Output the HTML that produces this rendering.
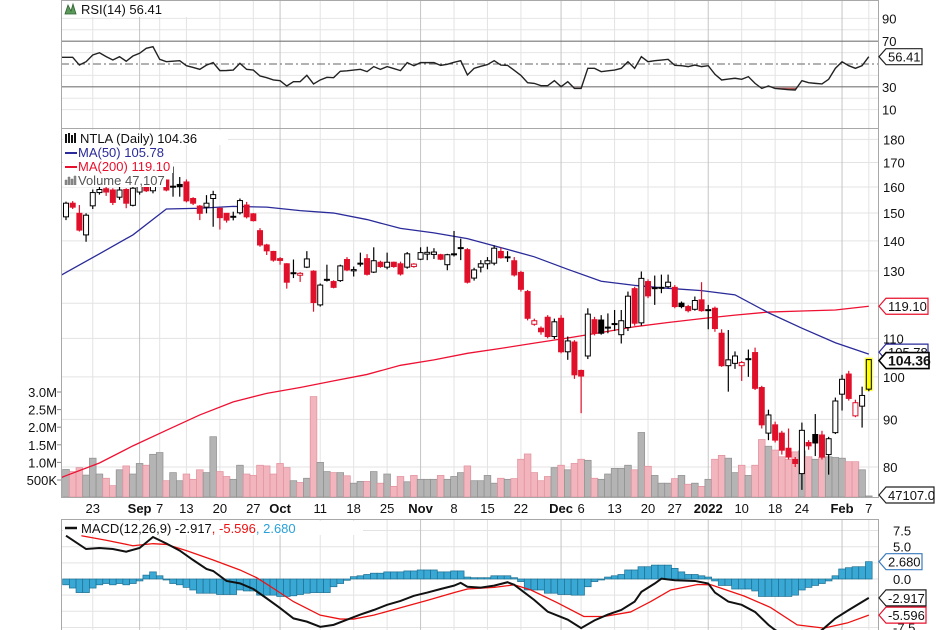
<!DOCTYPE html>
<html><head><meta charset="utf-8"><style>
html,body{margin:0;padding:0;background:#fff;}
svg{display:block;font-family:"Liberation Sans",sans-serif;}
</style></head><body>
<svg id="chart" width="936" height="630" viewBox="0 0 936 630" xmlns="http://www.w3.org/2000/svg">
<defs>
<clipPath id="cpPrice"><rect x="61" y="128" width="817" height="369"/></clipPath>
<clipPath id="cpMacd"><rect x="61" y="519" width="817" height="111"/></clipPath>
<clipPath id="cpRsi"><rect x="61" y="0" width="817" height="128"/></clipPath>
<clipPath id="cpRsiLow"><rect x="61" y="87.6" width="817" height="40"/></clipPath>
</defs>
</svg>
<script>
// ---------- DATA ----------
const opens=[148.6,153.7,149.9,142.1,152.7,157.8,159.3,158.8,156,159,152.9,158,160.5,158.5,161.5,162.8,160.3,161,162,155.5,152.6,152.2,155.5,151.8,149.9,148.6,150.1,153,149.7,143.6,138.6,136.4,134,132.3,129.3,128.6,131.2,129.9,119.5,127.2,126.6,126.9,133.7,130,132.4,134,129.6,132.8,131.2,132.8,132.3,131.2,131.4,133.8,135.5,135.4,135.3,132,135.5,137.6,137,127.7,131.2,132.3,132.5,136.4,134.6,133.3,129.5,123.5,113.9,112.8,115.9,110.5,115.6,106.4,109,101.6,105.3,115.2,115.1,113,114,111,113,124.4,114.3,126.6,124.6,124.7,125,124.8,120,119,118.2,121,118,118.5,111.4,102.8,103.4,102.8,104.5,106.2,97.4,87,88.8,87,83.8,81.5,78.7,85,86.7,86.6,82.5,87.1,95.8,100.7,90.8,93,97];
const highs=[154.3,154.5,153,149.9,159,160,160,159.5,160,159.5,160,161,162,162,164,163,168.3,164,163,156,153,156.8,158.5,152,150,150.5,155.5,154.2,150,144.5,139,136.6,134.5,132.5,133.7,129.6,136.5,130.2,126,132,127,132,134.5,131.4,136,135.5,137.8,133.3,136,133,133,136.2,132.5,137.8,138,137.5,135.6,135.6,143.5,140.8,137.5,131,133.5,134.5,138.5,137.7,136.5,134.5,130,124,115.5,113.3,116.5,115.5,116.5,110.5,109.5,101.8,118.5,116,116.5,117,118,118,123.5,125,129.8,127.3,128.5,128.8,128.8,125.5,120.5,119.5,122,126.4,119.5,119,112.5,112.3,106.5,104,107,107.5,97.8,92.2,89.5,87.5,88,82,89.3,85.5,91.2,87.5,86.2,95,100.5,101.5,94.5,97.6,104.5];
const lows=[147.4,151.5,143.3,139.7,151.5,157,156.5,153,155,151.8,152.5,157,158,157.5,160,158.3,156.2,156.2,154,153,147.4,149.9,145,144,146.5,147.3,149.5,148,146.9,138,135.2,133,132,124.4,127.7,126.5,130.9,117.5,119,126.6,124.5,126.5,129.9,128.2,131.4,128.5,129.3,131,130.5,131,128.5,130.7,131,133.5,133.5,133.9,133.5,130.2,134.7,133.5,126,126.9,129.5,130.5,131.8,134,132.9,128.2,123.5,115,113.5,111,110,109.8,106,104.3,99.5,91.4,104.5,110.8,111,111.4,112,108.6,112,113.5,113.5,121.5,119.5,123,124.5,118.5,118.5,117.3,117.8,117.5,112.5,111.8,102.5,96.4,102,99,100,96.8,88,85.5,85,82.5,81.5,80,75.6,83.5,82.2,81.5,78.5,86.8,92,94.3,90.5,88.2,96.5];
const closes=[153.7,152.2,143.8,149.2,157.8,159,158,154,158.8,153.7,159.5,160.5,158.5,161.5,163,158.8,160.1,160.1,154.6,153.7,149.9,153.7,157,148.3,147.4,148.8,154.7,148.6,147.2,138.6,136.6,133.5,133.4,126.4,129.4,129.2,133.9,120.2,125.5,127.3,124.8,131.6,130.3,130.4,132.5,128.9,133.3,131.4,132.8,131.4,129,135.6,132.2,136,136.1,136.2,133.8,135.3,135.6,137.7,126.4,130.3,132.3,133.3,137.5,134.3,134.5,128.7,124.2,115.6,114.9,111.8,110.5,114.6,106.4,109.3,100.5,100.2,116.8,111.4,111.4,113.1,114.1,114.9,122.1,114.2,127.6,122.2,124.7,124.8,126.4,119,119,117.8,120.8,117.8,118.1,112.7,102.8,104.3,105.3,103.6,104.6,97.2,88.8,91,85.5,83.4,82,80.7,87.6,84.3,84.9,82,85.8,94.2,99.4,94.8,93.8,95.5,104.36];
const volumesM=[0.80,0.74,0.85,0.64,1.12,0.67,0.55,0.34,0.79,0.90,0.67,0.97,0.92,1.23,1.28,0.48,0.71,0.48,0.67,0.52,0.79,0.71,1.73,0.74,0.60,0.52,0.92,0.67,0.63,0.92,0.90,0.67,0.97,0.85,0.48,0.43,0.55,2.87,1.0,0.74,0.71,0.71,0.62,0.41,0.46,0.46,0.74,0.41,0.67,0.32,0.60,0.45,0.63,0.52,0.52,0.52,0.63,0.52,0.60,0.71,0.90,0.48,0.48,0.63,0.41,0.55,0.52,0.54,1.09,1.24,0.71,0.48,0.60,0.85,0.92,0.79,0.97,1.09,1.06,0.55,0.52,0.67,0.83,0.83,0.92,0.79,1.85,0.89,0.63,0.41,0.41,0.54,0.63,0.38,0.41,0.32,0.52,1.09,1.20,1.12,0.71,0.92,0.63,0.92,1.65,1.46,1.35,1.16,1.09,1.30,1.33,1.16,1.09,1.14,1.16,1.14,1.12,1.02,1.02,0.79,0.047];
const ma50Idx=[0,5,10,15,20,25,30,35,40,45,50,55,60,65,70,75,80,85,90,95,100,105,110,115,120];
const ma50=[129.5,135.6,142.1,151.5,151.8,152.5,152.2,150.9,150,147.6,144.4,142.8,140.8,137.7,134.6,130.5,126.7,125.4,124.5,123.8,122.5,117.2,112.8,108.8,105.78];
const ma200=[78.3,80.8,84.3,87.6,91,94,96,97.4,99,100.6,102.9,104.3,106,107.3,108.7,110.1,111.6,113.2,114.4,115.5,116.5,117.4,117.7,118,119.1];
const rsi=[55.9,55.9,49.1,52,57.9,59.9,56.5,53.5,56.4,52.4,57,59.4,63.8,65.2,54.1,52,52.5,52.9,48.5,47,45.3,49,51.2,44.2,44.3,44.7,50.6,45.3,44.7,39.5,38,36,35.4,30.7,34.5,34.5,40.1,32.5,36,38.3,38,43.6,44,44.7,45.3,43.3,47.7,45.3,47.7,46,44.2,51.2,48.5,51.2,51.2,51.2,48.8,49.7,51.5,52.9,40.4,46.2,48,49.5,52.9,49.1,48.8,44.5,40,33.6,33,31,31,35.4,30.1,34.5,28.6,28.6,46.2,46.2,43.3,44,44.7,46.2,52,46.2,56.4,52,52.9,53.5,54.1,48.8,48.5,47.7,49.1,47.7,48.5,41,36,36.8,37.5,36.6,38.9,33,28.6,30.7,28.6,28,27.5,27.2,35.4,33.6,33,32.5,36.6,46.2,52,48.5,46.2,48.5,56.41];
const macdIdx=[0,3,5,7,9,11,13,15,17,19,21,22,24,26,28,30,32,34,36,38,40,42,44,46,48,50,52,54,56,58,59,60,62,64,66,67,70,72,75,77,79,81,83,85,86,88,89,91,94,96,97,99,101,103,105,106,108,111,113,115,117,120];
const macdVals=[6.7,4.64,4.8,4.64,4.23,4.8,6.5,5.5,4.4,2.94,1.55,1.24,-0.3,-0.67,-1.55,-3,-4.5,-6.1,-6.6,-7.4,-7.1,-6.3,-5.5,-4.8,-4.0,-3.4,-2.6,-2.1,-1.55,-1.03,-0.6,-1.2,-1.34,-1.03,-0.5,-0.9,-3.25,-5.06,-6.3,-7.6,-6.4,-5.5,-4.8,-3.5,-2.0,-0.7,0.05,-0.2,-0.3,-0.7,-2.1,-3.5,-4.0,-5.1,-7.1,-7.9,-9,-9.2,-7.9,-6.1,-4.8,-2.917];
const sigIdx=[2.3,6,10,13,15,18,22,26,28.5,31,34,38,41,43,46,50,54,58,60,64,67,69.5,73.5,77.4,80.4,84.4,87.4,90.4,94.4,96.4,101.4,105.3,109.3,113.3,116.8,120];
const sigVals=[6.7,6.0,5.15,5.47,5.35,4.4,2.94,1.4,0.2,-1.45,-3.5,-5.6,-6.2,-6.2,-5.6,-4.45,-3.3,-2.1,-1.55,-1.3,-0.9,-1.7,-3.7,-5.8,-5.8,-5.1,-3.5,-1.7,-0.85,-0.9,-2.65,-4.4,-7.1,-7.6,-6.8,-5.596];
const hist=[-0.9,-1.4,-2.1,-2.1,-1.4,-0.9,-0.7,-0.9,-0.7,-0.9,-0.7,-0.3,0.6,1.1,0.5,-0.15,-0.7,-0.9,-1.3,-1.7,-2.2,-2.2,-2.2,-2.4,-2.4,-2.4,-1.7,-1.85,-1.85,-2.5,-2.5,-2.5,-2.7,-2.7,-2.6,-2.4,-2.2,-2.1,-2.1,-2.1,-1.2,-0.7,-0.2,0.36,0.5,0.7,0.9,0.9,1.1,1.1,1.1,1.25,1.25,1.4,1.4,1.4,1.1,1.1,1.25,1.25,0.3,0.2,0.2,0.2,0.5,0.5,0.5,0.2,-0.4,-1.7,-1.7,-1.7,-2.2,-2.2,-2.4,-2.4,-2.5,-2.5,-1.2,-0.4,-0.15,0.3,0.5,0.7,1.4,1.4,1.9,1.9,2.15,2.15,2.15,1.65,1.1,0.7,0.7,0.5,0.3,-0.3,-1.0,-1.0,-1.55,-1.55,-1.55,-1.85,-2.7,-2.7,-2.7,-2.7,-2.7,-2.5,-1.7,-1.3,-1.0,-0.7,-0.3,0.5,1.55,1.75,1.9,1.9,2.68];
const priceTicks=[180,170,160,150,140,130,110,100,90,80];
const priceGrid=[180,170,160,150,140,130,120,110,100,90,80];
const volTicks=[3.0,2.5,2.0,1.5,1.0,0.5];
const volTickLabels=['3.0M','2.5M','2.0M','1.5M','1.0M','500K'];
const rsiTicks=[90,70,30,10];
const rsiGrid=[10,20,30,40,50,60,70,80,90];
const macdTicks=[7.5,5.0,0.0,-7.5];
const macdTickLabels=['7.5','5.0','0.0','-7.5'];
const macdGrid=[7.5,5,2.5,0,-2.5,-5,-7.5];
const dayIdx=[4,14,18,23,28,38,43,48,58,63,68,77,82,87,91,101,106,110,120];
const dayLabels=['23','7','13','20','27','11','18','25','8','15','22','6','13','20','27','10','18','24','7'];
const monthIdx=[11,32,53,74,96,116];
const monthLabels=['Sep','Oct','Nov','Dec','2022','Feb'];

// ---------- SCALES ----------
const X0=66, DX=6.69, PL=61, PR=878;
function xOf(i){return X0+DX*i;}
function yP(p){return 467-Math.log(p/80)*404;}
function yV(v){return 497.6-v*35.2;}
function yR(v){return 64-(v-50)*1.14;}
function yM(v){return 579-v*6.46;}

const svg=document.getElementById('chart');
const NS='http://www.w3.org/2000/svg';
function mk(tag,attrs,parent){const e=document.createElementNS(NS,tag);for(const k in attrs)e.setAttribute(k,attrs[k]);(parent||svg).appendChild(e);return e;}
function grp(clip){const g=mk('g',clip?{'clip-path':'url(#'+clip+')'}:{});return g;}

// panel backgrounds
[[0,128,'rsi-panel'],[128,369,'price-panel'],[519,111,'macd-panel']].forEach(function(p){
  const r=mk('rect',{x:PL,y:p[0],width:PR-PL,height:p[1],fill:'#fff',stroke:'none'});
  
  
});

// gridlines
const gridG=grp();


priceGrid.forEach(function(p){const l=mk('line',{x1:PL,x2:PR,y1:yP(p),y2:yP(p),stroke:'#e3e3e3'},gridG);
  
  });
rsiGrid.forEach(function(v){if(v===30||v===70||v===50)return;const l=mk('line',{x1:PL,x2:PR,y1:yR(v),y2:yR(v),stroke:'#e6e6e6'},gridG);
  
  });
macdGrid.forEach(function(v){const l=mk('line',{x1:PL,x2:PR,y1:yM(v),y2:yM(v),stroke:'#e3e3e3'},gridG);
  
  });
[[0,128],[128,497],[519,630]].forEach(function(s){
  dayIdx.forEach(function(i){const l=mk('line',{x1:xOf(i),x2:xOf(i),y1:s[0],y2:s[1],stroke:'#e3e3e3'},gridG);
    
    });
  monthIdx.forEach(function(i){const l=mk('line',{x1:xOf(i),x2:xOf(i),y1:s[0],y2:s[1],stroke:'#c4c4c4'},gridG);
    
    });
});

// ---------- RSI ----------
const rsiG=grp('cpRsi');


[70,30].forEach(function(v){const l=mk('line',{x1:PL,x2:PR,y1:yR(v),y2:yR(v),stroke:'#777','stroke-width':1.2},rsiG);
  
  });
const mid=mk('line',{x1:PL,x2:PR,y1:yR(50),y2:yR(50),stroke:'#666','stroke-dasharray':'8,3,2,3'},rsiG);


let rpts=[[PL,yR(rsi[0])]];
rsi.forEach(function(v,i){rpts.push([xOf(i),yR(v)]);});
const lowArea=mk('polygon',{points:rpts.map(p=>p.join(',')).join(' ')+' '+xOf(rsi.length-1)+','+yR(30)+' '+PL+','+yR(30),fill:'#b85c5c','clip-path':'url(#cpRsiLow)'},rsiG);


const rl=mk('polyline',{points:rpts.map(p=>p.join(',')).join(' '),fill:'none',stroke:'#222','stroke-width':1.4},rsiG);



// ---------- VOLUME ----------
const volG=grp('cpPrice');


volumesM.forEach(function(v,i){
  const down=i>0&&closes[i]<closes[i-1];
  const b=mk('rect',{x:xOf(i)-DX/2,y:yV(v),width:DX,height:497-yV(v),fill:down?'#f2b5be':'#b4b4b4',stroke:down?'#e0909c':'#8f8f8f','stroke-width':0.7},volG);
  
  
});

// ---------- MOVING AVERAGES ----------
const maG=grp('cpPrice');


function maPts(vals){const pts=[[PL,yP(vals[0]-(vals[1]-vals[0])*0.15)]];vals.forEach(function(v,k){pts.push([xOf(ma50Idx[k]),yP(v)]);});return pts.map(p=>p.join(',')).join(' ');}
const m2=mk('polyline',{points:maPts(ma200),fill:'none',stroke:'#ee1133','stroke-width':1.3},maG);


const m1=mk('polyline',{points:maPts(ma50),fill:'none',stroke:'#2a2a9a','stroke-width':1.3},maG);



// ---------- CANDLES ----------
const cG=grp('cpPrice');


opens.forEach(function(o,i){
  const c=closes[i],h=highs[i],l=lows[i];
  const down=i>0&&c<closes[i-1];
  const up=c>=o;
  const last=i===opens.length-1;
  const col=last?'#000':(down?'#e0102a':'#000');
  const x=xOf(i);
  const g=mk('g',{},cG);
  
  
  if(last){mk('rect',{x:x-4,y:yP(Math.max(o,c))-2,width:8,height:Math.abs(yP(o)-yP(c))+4,fill:'#ffff33'},g);}
  mk('line',{x1:x,x2:x,y1:yP(h),y2:yP(l),stroke:col,'stroke-width':1.2},g);
  const top=yP(Math.max(o,c)),bot=yP(Math.min(o,c));
  const fill=last?'#ffff00':(up?'#fff':col);
  mk('rect',{x:x-2.5,y:top,width:5,height:Math.max(bot-top,1),fill:fill,stroke:col,'stroke-width':1},g);
});

// ---------- MACD ----------
const mG=grp('cpMacd');


hist.forEach(function(v,i){
  const y0=yM(0),y1=yM(v);
  const b=mk('rect',{x:xOf(i)-DX/2,y:Math.min(y0,y1),width:DX,height:Math.abs(y1-y0),fill:'#3aa8d4',stroke:'#1c6f92','stroke-width':0.7},mG);
  
  
});
const sl=mk('polyline',{points:sigIdx.map(function(k,j){return xOf(k)+','+yM(sigVals[j]);}).join(' '),fill:'none',stroke:'#ee1111','stroke-width':1.3},mG);


const ml=mk('polyline',{points:macdIdx.map(function(k,j){return xOf(k)+','+yM(macdVals[j]);}).join(' '),fill:'none',stroke:'#111','stroke-width':2},mG);



// panel frames
[[0,128],[128,369],[519,111]].forEach(function(p){
  const r=mk('rect',{x:PL+0.5,y:p[0]+0.5,width:PR-PL,height:p[1],fill:'none',stroke:'#a8a8a8'});
  
  
});

// ---------- AXIS LABELS ----------
function txt(s,x,y,attrs){const t=mk('text',Object.assign({x:x,y:y,'font-size':13,fill:'#111'},attrs||{}));t.textContent=s;return t;}
priceTicks.forEach(function(p){const t=txt(String(p),883,yP(p)+5);
  
  });
rsiTicks.forEach(function(v){const t=txt(String(v),882,yR(v)+5);
  
  });
macdTicks.forEach(function(v,k){const t=txt(macdTickLabels[k],893,yM(v)+5);
  
  });
volTicks.forEach(function(v,k){const t=txt(volTickLabels[k],57,yV(v)+5,{'text-anchor':'end'});
  
  
  const tk=mk('line',{x1:57,x2:61,y1:yV(v),y2:yV(v),stroke:'#888'});
  
  });
dayIdx.forEach(function(i,k){const t=txt(dayLabels[k],xOf(i),513,{'text-anchor':'middle'});
  
  });
monthIdx.forEach(function(i,k){const t=txt(monthLabels[k],xOf(i),513,{'text-anchor':'middle','font-weight':'bold'});
  
  });

// ---------- VALUE TAGS ----------
function tag(label,cy,stroke,w,bold){
  const g=mk('g',{});
  mk('path',{d:'M879,'+cy+' L886,'+(cy-8)+' L'+(886+w)+','+(cy-8)+' L'+(886+w)+','+(cy+8)+' L886,'+(cy+8)+' Z',fill:'#fff',stroke:stroke,'stroke-width':bold?1.6:1.2},g);
  const t=mk('text',{x:888,y:cy+5,'font-size':bold?14:13,'font-weight':bold?'bold':'normal',fill:'#111'},g);
  t.textContent=label;
  return g;
}
let tg;
tg=tag('56.41',yR(56.41),'#222',36,false);


tg=tag('119.10',yP(119.1),'#e8112d',42,false);


tg=tag('105.78',yP(105.78)-2,'#2a2a9a',42,false);


tg=tag('104.36',yP(104.36)+1,'#000',43,true);


tg=tag('47107.0',495,'#222',48,false);


tg=tag('2.680',yM(2.68),'#3a7abf',36,false);


tg=tag('-2.917',yM(-2.917),'#222',40,false);


tg=tag('-5.596',yM(-5.596),'#e8112d',40,false);



// ---------- LEGENDS ----------
function legendBg(x,y,w,h,name){const r=mk('rect',{x:x,y:y,width:w,height:h,fill:'#fff'});
  
  }
legendBg(63,1,125,16,'rsi-legend-bg');
const ri=mk('path',{d:'M65,14 L68,5 L71,11 L73,4 L76,14 Z',fill:'#5a9a5a',stroke:'#2f5f2f','stroke-width':0.8});


let lt=txt('RSI(14) 56.41',81,14);



legendBg(63,130,165,15,'price-legend-bg');
legendBg(63,145,105,14,'ma50-legend-bg');
legendBg(63,159,110,14,'ma200-legend-bg');
legendBg(63,173,103,14,'volume-legend-bg');
const ci=mk('path',{d:'M66,134 v9 M69,133 v10 M72,135 v8 M75,133 v10',stroke:'#111','stroke-width':2});


lt=txt('NTLA (Daily) 104.36',80,143);


const d1=mk('line',{x1:65,x2:77,y1:153,y2:153,stroke:'#2a2a9a','stroke-width':2});


lt=txt('MA(50) 105.78',78,157,{fill:'#2a2a9a'});


const d2=mk('line',{x1:65,x2:77,y1:167,y2:167,stroke:'#e8112d','stroke-width':2});


lt=txt('MA(200) 119.10',78,171,{fill:'#e8112d'});


const vi=mk('path',{d:'M65,185 v-5 h2 v5 M68,185 v-8 h2 v8 M71,185 v-6 h2 v6 M74,185 v-9 h2 v9',fill:'#888',stroke:'#777','stroke-width':0.5});


lt=txt('Volume 47,107',78,185,{fill:'#555'});



legendBg(63,521,300,14,'macd-legend-bg');
const d3=mk('line',{x1:65,x2:77,y1:528,y2:528,stroke:'#111','stroke-width':2.5});


const mt=mk('text',{x:81,y:533,'font-size':13,fill:'#111'});


const s1=mk('tspan',{},mt);s1.textContent='MACD(12,26,9) -2.917';
const s2=mk('tspan',{fill:'#ee1111'},mt);s2.textContent=', -5.596';
const s3=mk('tspan',{fill:'#2aa0d8'},mt);s3.textContent=', 2.680';
</script>
</body></html>
